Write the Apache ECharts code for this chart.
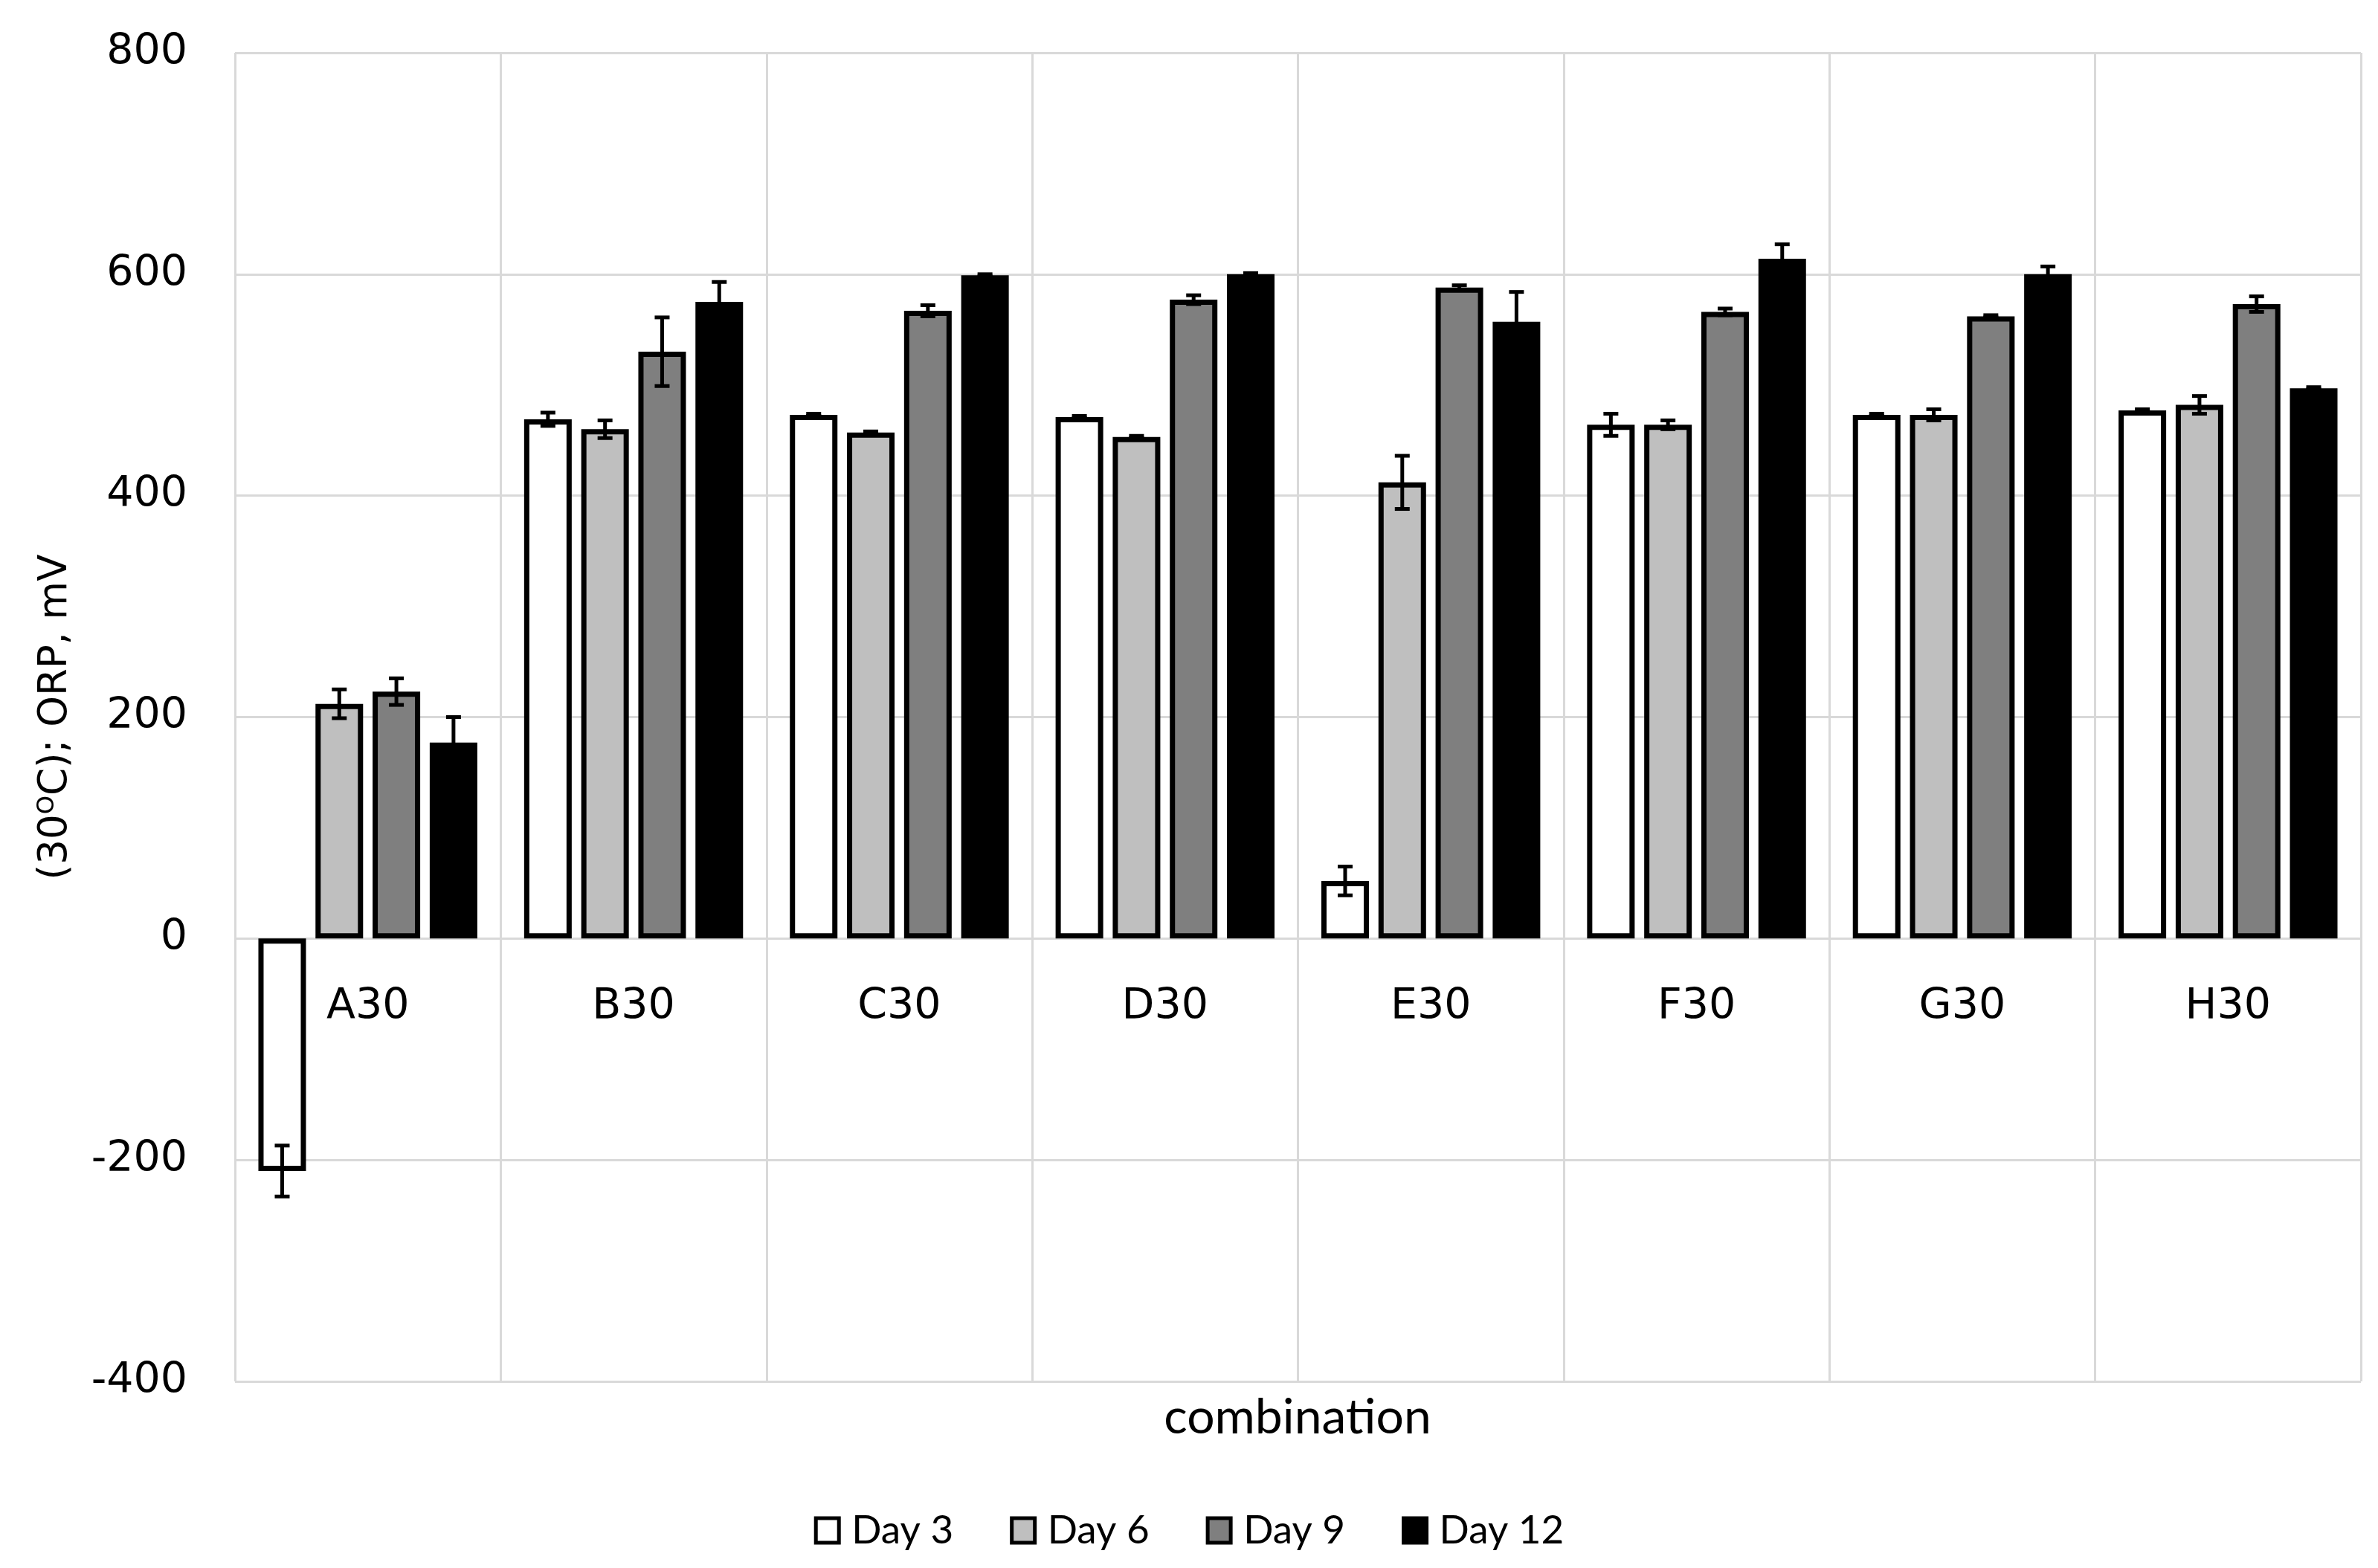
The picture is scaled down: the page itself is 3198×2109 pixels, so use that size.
<!DOCTYPE html>
<html>
<head>
<meta charset="utf-8">
<script src="https://cdn.jsdelivr.net/npm/echarts@6/dist/echarts.min.js"></script>
<style>html,body{margin:0;padding:0;background:#fff}#c{width:3198px;height:2109px}</style>
</head>
<body>
<div id="c"></div>
<script>
const categories = ['A30','B30','C30','D30','E30','F30','G30','H30'];
const seriesNames = ['Day 3','Day 6','Day 9','Day 12'];
const day3  = [-210, 469, 473, 471,  52, 464, 473, 477];
const day6  = [ 212, 460, 457, 453, 412, 464, 473, 482];
const day9  = [ 223, 530, 567, 577, 588, 566, 562, 573];
const day12 = [ 177, 575, 599, 600, 557, 614, 600, 497];
const err3  = [ 23,  6,  1,  1, 13, 10,  1,  1];
const err6  = [ 13,  8,  1,  1, 24,  4,  5,  8];
const err9  = [ 12, 31,  5,  4,  2,  3,  1,  7];
const err12 = [ 23, 18,  1,  1, 27, 13,  7,  1];
const yTicks = [-400, -200, 0, 200, 400, 600, 800];

const values = [day3, day6, day9, day12];
const errors = [err3, err6, err9, err12];
const fills = ['#ffffff', '#bfbfbf', '#7f7f7f', '#000000'];

const BAR_W = 64, BAR_GAP = 0.2, PITCH = BAR_W * (1 + BAR_GAP);
const FONT = '"DejaVu Sans", "Open Sans", sans-serif';
const FONT2 = 'Lato, "Open Sans", sans-serif';

const series = [];
values.forEach((vals, i) => {
  series.push({
    name: seriesNames[i],
    type: 'bar',
    data: vals,
    barWidth: BAR_W,
    barGap: (BAR_GAP * 100) + '%',
    itemStyle: { color: fills[i], borderColor: '#000', borderWidth: 7 },
    emphasis: { disabled: true },
    z: 2
  });
});
values.forEach((vals, i) => {
  series.push({
    name: seriesNames[i] + ' err',
    type: 'custom',
    z: 5,
    silent: true,
    data: vals.map((v, k) => [k, v, errors[i][k]]),
    renderItem: function (params, api) {
      const k = api.value(0), v = api.value(1), e = api.value(2);
      const top = api.coord([k, v + e]);
      const bot = api.coord([k, v - e]);
      const x = top[0] + (i - 1.5) * PITCH;
      const cap = 10;
      const st = { stroke: '#000', lineWidth: 5 };
      return {
        type: 'group',
        children: [
          { type: 'line', shape: { x1: x, y1: top[1], x2: x, y2: bot[1] }, style: st },
          { type: 'line', shape: { x1: x - cap, y1: top[1], x2: x + cap, y2: top[1] }, style: st },
          { type: 'line', shape: { x1: x - cap, y1: bot[1], x2: x + cap, y2: bot[1] }, style: st }
        ]
      };
    }
  });
});
// category labels sitting just under the zero line (Excel axis crossing at 0)
series.push({
  name: 'catLabels',
  type: 'custom',
  z: 6,
  silent: true,
  data: categories.map((c, k) => [k, 0]),
  renderItem: function (params, api) {
    const k = api.value(0);
    const p = api.coord([k, 0]);
    return {
      type: 'text',
      x: p[0], y: p[1] + 93,
      style: { text: categories[k], fontFamily: FONT, fontSize: 57, fill: '#000', align: 'center', verticalAlign: 'middle' }
    };
  }
});

const chart = echarts.init(document.getElementById('c'), null, { renderer: 'canvas' });
chart.setOption({
  animation: false,
  backgroundColor: '#ffffff',
  grid: { left: 316, right: 23, top: 71, bottom: 251, containLabel: false },
  legend: {
    data: seriesNames,
    left: 'center',
    top: 2027,
    icon: 'rect',
    itemWidth: 31,
    itemHeight: 33,
    itemGap: 76,
    itemStyle: { borderWidth: 5, borderColor: '#000' },
    textStyle: { fontFamily: FONT2, fontSize: 53, color: '#000', padding: [0, 0, 0, 12] }
  },
  xAxis: {
    type: 'category',
    data: categories,
    axisLine: { show: false },
    axisTick: { show: false },
    axisLabel: { show: false },
    splitLine: { show: true, interval: 0, lineStyle: { color: '#d9d9d9', width: 3 } }
  },
  yAxis: {
    type: 'value',
    min: yTicks[0],
    max: yTicks[yTicks.length - 1],
    interval: yTicks[1] - yTicks[0],
    axisLine: { show: false },
    axisTick: { show: false },
    axisLabel: { fontFamily: FONT, fontSize: 57, color: '#000', margin: 64 },
    splitLine: { show: true, lineStyle: { color: '#d9d9d9', width: 3 } },
    name: '(30{s|O}C); ORP, mV',
    nameLocation: 'middle',
    nameGap: 214,
    nameTextStyle: {
      fontFamily: FONT, fontSize: 53, color: '#000',
      rich: { s: { fontFamily: FONT, fontSize: 32, color: '#000', padding: [0, 0, 22, 0] } }
    }
  },
  graphic: [{
    type: 'text',
    x: 1745, y: 1907,
    style: { text: 'combination', fontFamily: FONT2, fontSize: 66, fill: '#000', textAlign: 'center', textVerticalAlign: 'middle' }
  }],
  series: series
});
</script>
</body>
</html>
